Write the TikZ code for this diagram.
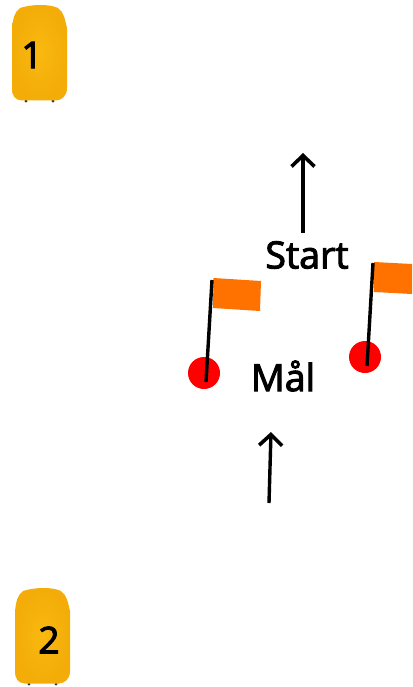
\documentclass[tikz,border=0pt]{standalone}
\usepackage{fontspec}
\setmainfont{Open Sans}
\newcommand{\heavytext}[1]{\special{pdf:code 2 Tr 1 w}#1\special{pdf:code 0 Tr 1 w}}
\usetikzlibrary{arrows.meta}
\definecolor{buoy}{HTML}{F9B90F}
\definecolor{buoyedge}{HTML}{F3AC08}
\definecolor{flagor}{HTML}{FF7200}
\tikzset{
  buoybody/.style={inner color=buoy,outer color=buoyedge,draw=none},
  buoyfoot/.style={fill=black!80,draw=none},
  buoylabel/.style={font=\fontsize{37}{37}\selectfont,text=black,inner sep=0pt},
  lbl/.style={font=\fontsize{37.5}{37.5}\selectfont,text=black,inner sep=0pt},
  marker/.style={circle,fill=red,draw=none,minimum size=32pt,inner sep=0pt},
  flagcloth/.style={fill=flagor,draw=none},
  pole/.style={draw=black,line width=3.4pt},
  travel/.style={draw=black,line width=3.4pt,-{Straight Barb[length=11pt,width=23pt,line width=3.6pt]}},
}
\newcommand{\buoyat}[2]{%
  \begin{scope}[shift={(#1,#2)}]
    \fill[buoyfoot] (26,101) circle (1.6);
    \fill[buoyfoot] (53,101) circle (1.6);
    \shade[buoybody] (20,8) .. controls (32,4) and (50,4) .. (58,8)
      .. controls (64,12) and (65,20) .. (67,28)
      -- (67,88) .. controls (67,96) and (62,100) .. (56,100.5)
      -- (22,100.5) .. controls (15,100) and (12,96) .. (12,88)
      -- (12,28) .. controls (13,20) and (14,12) .. (20,8) -- cycle;
  \end{scope}}
\begin{document}
\begin{tikzpicture}[x=1pt,y=-1pt]
\useasboundingbox (0,0) rectangle (412,687);
\buoyat{0}{0}
\buoyat{3}{583}
\node[buoylabel] (one) at (32,55) {\heavytext{1}};
\node[buoylabel] (two) at (49,640) {\heavytext{2}};
\coordinate (a1s) at (303,233); \coordinate (a1e) at (303,153);
\coordinate (a2s) at (269,503); \coordinate (a2e) at (271,432);
\draw[travel] (a1s) -- (a1e);
\draw[travel] (a2s) -- (a2e);
\node[lbl] (start) at (307,255) {\heavytext{Start}};
\node[lbl] (maal) at (283,376) {\heavytext{Mål}};
\node[marker] (m1) at (204,373) {};
\node[marker] (m2) at (365,357) {};
\fill[flagcloth] (213.5,278) -- (261,281) -- (260,311) -- (213,308) -- cycle;
\fill[flagcloth] (374,262) -- (412,264) -- (412,294) -- (374,292) -- cycle;
\coordinate (t1) at (212,280); \coordinate (t2) at (373,263);
\coordinate (b1) at (206,382); \coordinate (b2) at (367,366);
\draw[pole] (b1) -- (t1);
\draw[pole] (b2) -- (t2);
\end{tikzpicture}
\end{document}
